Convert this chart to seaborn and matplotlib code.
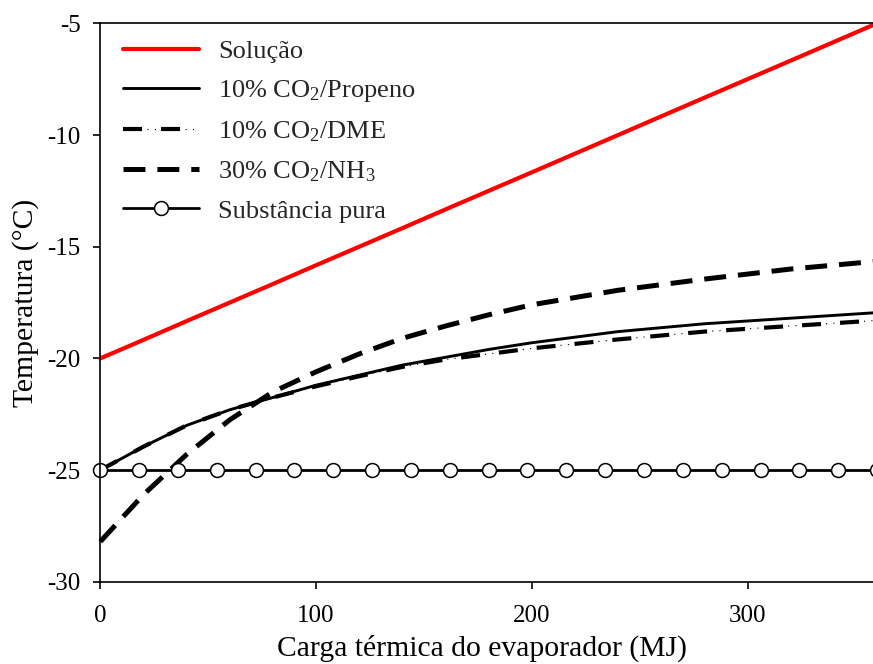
import numpy as np
import pandas as pd
import matplotlib
matplotlib.use("Agg")
import matplotlib.pyplot as plt
import seaborn as sns
from matplotlib.legend_handler import HandlerTuple

# Evaporator thermal load (MJ) and temperatures (°C)
carga = [0, 20, 40, 60, 80, 100, 120, 140, 160, 180, 200, 240, 280, 320, 360]
t_solucao = [-20.0, -19.17, -18.33, -17.5, -16.67, -15.83, -15.0, -14.17,
             -13.33, -12.5, -11.67, -10.0, -8.33, -6.67, -5.0]
t_propeno = [-25.0, -23.95, -23.0, -22.3, -21.75, -21.2, -20.75, -20.3,
             -19.95, -19.6, -19.3, -18.8, -18.45, -18.2, -17.95]
t_dme = [-25.0, -23.95, -23.0, -22.3, -21.75, -21.25, -20.8, -20.38,
         -20.05, -19.8, -19.55, -19.15, -18.8, -18.55, -18.3]
t_nh3 = [-28.2, -26.1, -24.3, -22.75, -21.5, -20.6, -19.8, -19.1,
         -18.55, -18.05, -17.6, -16.95, -16.45, -16.0, -15.65]
carga_pura = [0, 18, 36, 54, 72, 90, 108, 126, 144, 162, 180, 198, 216,
              234, 252, 270, 288, 306, 324, 342, 360]
t_pura = [-25.0] * len(carga_pura)

labels = ["Solução",
          r"10% CO$\mathregular{_2}$/Propeno",
          r"10% CO$\mathregular{_2}$/DME",
          r"30% CO$\mathregular{_2}$/NH$\mathregular{_3}$",
          "Substância pura"]

sns.set_theme(style="ticks")
plt.rcParams["font.family"] = ["Liberation Serif", "DejaVu Serif"]
plt.rcParams["mathtext.fontset"] = "custom"
plt.rcParams["mathtext.rm"] = "Liberation Serif"

fig = plt.figure(figsize=(8.73, 6.64), dpi=100)
ax = fig.add_axes([0.1149, 0.1238, 0.8897, 0.8411])


def dash_in_points(line, offset, seq):
    """Set a dash pattern given in points, independent of the line width."""
    lw = line.get_linewidth()
    line.set_linestyle((offset / lw, tuple(v / lw for v in seq)))
    line.set_dash_capstyle("butt")


sns.lineplot(x=carga, y=t_solucao, ax=ax, color="#ff0000", linewidth=3.0)
h_sol = ax.lines[-1]

sns.lineplot(x=carga, y=t_propeno, ax=ax, color="black", linewidth=2.1)
h_pro = ax.lines[-1]

# DME: thick dashes with two fine dots in each gap
sns.lineplot(x=carga, y=t_dme, ax=ax, color="black", linewidth=0.8)
h_dme_dots = ax.lines[-1]
dash_in_points(h_dme_dots, 10.1, (0.8, 4.5, 0.8, 21.3))
sns.lineplot(x=carga, y=t_dme, ax=ax, color="black", linewidth=3.0)
h_dme = ax.lines[-1]
dash_in_points(h_dme, 0, (13.7, 13.7))

sns.lineplot(x=carga, y=t_nh3, ax=ax, color="black", linewidth=3.6)
h_nh3 = ax.lines[-1]
dash_in_points(h_nh3, 0, (15.8, 8.6))

sns.lineplot(x=carga_pura, y=t_pura, ax=ax, color="black", linewidth=2.0,
             marker="o", markersize=10, markerfacecolor="white",
             markeredgecolor="black", markeredgewidth=1.1)
h_pura = ax.lines[-1]
for ln in ax.lines:
    ln.set_clip_on(False)

ax.set_xlim(0, 360)
ax.set_ylim(-30, -5)
ax.set_xticks([0, 100, 200, 300])
ax.set_yticks([-30, -25, -20, -15, -10, -5])
ax.set_yticklabels(["-30", "-25", "-20", "-15", "-10", "-5"])
ax.tick_params(axis="both", direction="out", length=5, width=1.2,
               labelsize=18, color="black", labelcolor="black")
ax.tick_params(axis="y", pad=9)
ax.tick_params(axis="x", pad=12)
for sp in ax.spines.values():
    sp.set_linewidth(1.2)
    sp.set_color("black")

ax.set_xlabel("Carga térmica do evaporador (MJ)", fontsize=21.3,
              color="black", labelpad=4)
ax.xaxis.set_label_coords(0.4914, -0.095)
ax.xaxis.label.set_va("top")
ax.set_ylabel("Temperatura (°C)", fontsize=21.3, color="black", labelpad=6)

leg = ax.legend([h_sol, h_pro, (h_dme_dots, h_dme), h_nh3, h_pura], labels,
                handler_map={tuple: HandlerTuple(ndivide=1, pad=0)},
                loc="upper left", bbox_to_anchor=(0.029, 0.9714),
                frameon=False, fontsize=19, handlelength=2.9,
                handletextpad=0.72, labelspacing=0.58, borderpad=0,
                borderaxespad=0, numpoints=1)

fig.savefig("out.png", dpi=100)
